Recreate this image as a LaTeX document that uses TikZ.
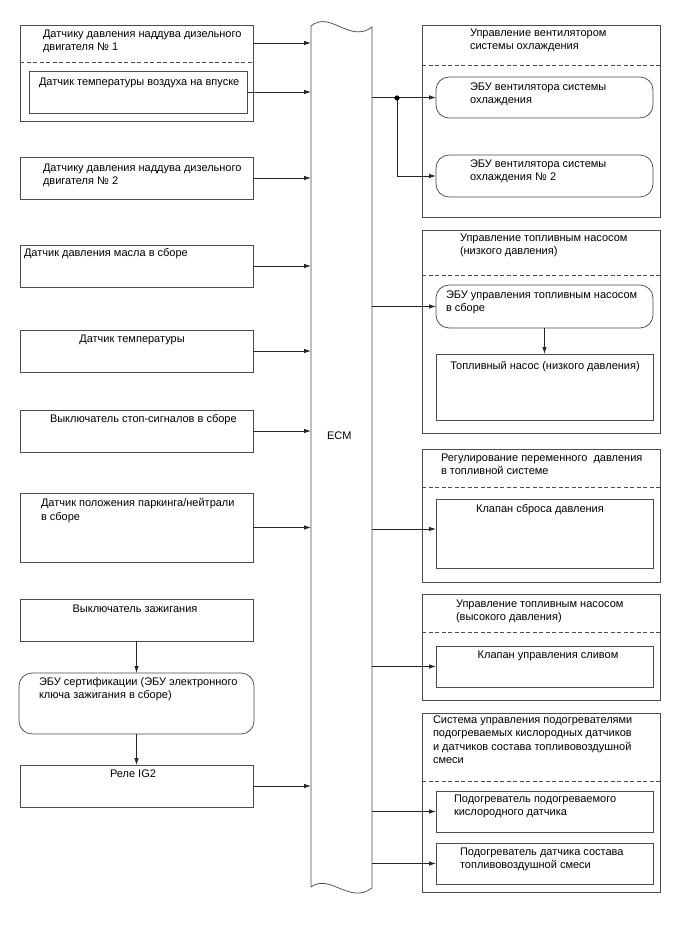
\documentclass[tikz,border=0pt]{standalone}
\usepackage{fontspec}
\setmainfont{Liberation Sans}
\usetikzlibrary{arrows.meta}
\definecolor{ln}{gray}{0.3}
\tikzset{
  bx/.style={draw=ln, line width=0.75pt, inner sep=0pt, outer sep=0pt},
  rbx/.style={bx, rounded corners=13pt},
  txt/.style={inner sep=0pt, outer sep=0pt, font=\fontsize{11}{13.5}\selectfont, align=left, text=black},
  arr/.style={draw=black!85, line width=0.75pt, -{Latex[length=7pt,width=4.5pt]}},
  dsh/.style={draw=ln, line width=0.75pt, dash pattern=on 4pt off 2.5pt},
  lnk/.style={draw=black!85, line width=0.75pt}
}
% name, x1, y1, x2, y2, style
\newcommand\mybox[6]{\node[#6, anchor=north west, minimum width={(#4-#2)*1pt}, minimum height={(#5-#3)*1pt}] (#1) at (#2pt,-#3pt) {};}
% name, x, y(first line centre), text
\newcommand\mytxt[4]{\node[txt, anchor=north west, yshift=4.5pt] (#1) at (#2pt,-#3pt) {#4};}
\newcommand\mytxtc[4]{\node[txt, anchor=north, align=center, yshift=4.5pt] (#1) at (#2pt,-#3pt) {#4};}
\begin{document}
\begin{tikzpicture}
\useasboundingbox (0,0) rectangle (688pt,-949pt);
\fill[white] (0,0) rectangle (688pt,-949pt);

% ---------------- ECM ----------------
\node[inner sep=0pt, outer sep=0pt, anchor=north west, minimum width=61pt, minimum height=861pt] (ecm) at (311pt,-26pt) {};
\draw[ln, line width=0.75pt] (311pt,-887pt) -- (311pt,-26pt)
  .. controls (330pt,-10pt) and (350pt,-44pt) .. (372pt,-27pt) -- (372pt,-888pt)
  .. controls (350pt,-905pt) and (330pt,-873pt) .. (311pt,-887pt);
\node[txt, anchor=west] (ecmlbl) at (327pt,-436pt) {ECM};

% ---------------- Left column ----------------
\mybox{L1}{20}{25}{253}{121}{bx}
\draw[dsh] (L1.west |- 0,-62pt) -- (L1.east |- 0,-62pt);
\mytxt{t1}{43}{34}{Датчику давления наддува дизельного\\двигателя № 1}
\mybox{L1b}{29}{71}{247}{113}{bx}
\mytxt{t1b}{39}{82}{Датчик температуры воздуха на впуске}

\mybox{L2}{20}{157}{253}{199}{bx}
\mytxt{t2}{43}{168}{Датчику давления наддува дизельного\\двигателя № 2}

\mybox{L3}{20}{245}{253}{287}{bx}
\mytxt{t3}{24}{253}{Датчик давления масла в сборе}

\mybox{L4}{20}{330}{253}{372}{bx}
\mytxtc{t4}{132}{339}{Датчик температуры}

\mybox{L5}{20}{410}{253}{452}{bx}
\mytxt{t5}{50}{419}{Выключатель стоп-сигналов в сборе}

\mybox{L6}{20}{493}{253}{562}{bx}
\mytxt{t6}{41}{503}{Датчик положения паркинга/нейтрали\\в сборе}

\mybox{L7}{20}{599}{253}{641}{bx}
\mytxtc{t7}{135}{609}{Выключатель зажигания}

\mybox{L8}{19}{673}{254}{734}{rbx}
\mytxt{t8}{39}{682}{ЭБУ сертификации (ЭБУ электронного\\ключа зажигания в сборе)}

\mybox{L9}{20}{765}{253}{807}{bx}
\mytxtc{t9}{133}{774}{Реле IG2}

% left arrows
\draw[arr] (L1.east |- 0,-43pt) -- (ecm.west |- 0,-43pt);
\draw[arr] (L1b.east) -- (ecm.west |- L1b.east);
\draw[arr] (L2.east) -- (ecm.west |- L2.east);
\draw[arr] (L3.east) -- (ecm.west |- L3.east);
\draw[arr] (L4.east) -- (ecm.west |- L4.east);
\draw[arr] (L5.east) -- (ecm.west |- L5.east);
\draw[arr] (L6.east) -- (ecm.west |- L6.east);
\draw[arr] (L9.east) -- (ecm.west |- L9.east);
\draw[arr] (L7.south) -- (L8.north);
\draw[arr] (L8.south) -- (L9.north);

% ---------------- Right column ----------------
% group 1
\mybox{R1}{422}{25}{660}{217}{bx}
\draw[dsh] (R1.west |- 0,-65pt) -- (R1.east |- 0,-65pt);
\mytxt{r1t}{470}{33}{Управление вентилятором\\системы охлаждения}
\mybox{RB1}{436}{77}{653}{118}{rbx}
\mytxt{rb1t}{470}{87}{ЭБУ вентилятора системы\\охлаждения}
\mybox{RB2}{436}{155}{653}{197}{rbx}
\mytxt{rb2t}{470}{164}{ЭБУ вентилятора системы\\охлаждения № 2}
\coordinate (j1) at (397pt,-98pt);
\draw[arr] (ecm.east |- RB1.west) -- (RB1.west);
\draw[arr] (j1) |- (RB2.west);
\fill[black] (j1) circle (2.6pt);

% group 2
\mybox{R2}{422}{230}{660}{433}{bx}
\draw[dsh] (R2.west |- 0,-275pt) -- (R2.east |- 0,-275pt);
\mytxt{r2t}{460}{238}{Управление топливным насосом\\(низкого давления)}
\mybox{RB3}{436}{285}{653}{328}{rbx}
\mytxt{rb3t}{446}{295}{ЭБУ управления топливным насосом\\в сборе}
\mybox{R2b}{436}{354}{653}{420}{bx}
\mytxtc{r2bt}{545}{366}{Топливный насос (низкого давления)}
\draw[arr] (ecm.east |- RB3.west) -- (RB3.west);
\draw[arr] (RB3.south) -- (R2b.north);

% group 3
\mybox{R3}{422}{449}{660}{582}{bx}
\draw[dsh] (R3.west |- 0,-487pt) -- (R3.east |- 0,-487pt);
\mytxt{r3t}{441}{458}{Регулирование переменного \ давления\\в топливной системе}
\mybox{R3b}{436}{499}{653}{568}{bx}
\mytxtc{r3bt}{540}{509}{Клапан сброса давления}
\draw[arr] (ecm.east |- 0,-529pt) -- (R3b.west |- 0,-529pt);

% group 4
\mybox{R4}{422}{594}{660}{700}{bx}
\draw[dsh] (R4.west |- 0,-632pt) -- (R4.east |- 0,-632pt);
\mytxt{r4t}{456}{604}{Управление топливным насосом\\(высокого давления)}
\mybox{R4b}{436}{646}{653}{687}{bx}
\mytxtc{r4bt}{548}{655}{Клапан управления сливом}
\draw[arr] (ecm.east |- R4b.west) -- (R4b.west);

% group 5
\mybox{R5}{422}{713}{660}{892}{bx}
\draw[dsh] (R5.west |- 0,-781pt) -- (R5.east |- 0,-781pt);
\mytxt{r5t}{433}{720}{Система управления подогревателями\\подогреваемых кислородных датчиков\\и датчиков состава топливовоздушной\\смеси}
\mybox{R5a}{436}{791}{653}{832}{bx}
\mytxt{r5at}{454}{799}{Подогреватель подогреваемого\\кислородного датчика}
\mybox{R5b}{436}{843}{653}{884}{bx}
\mytxt{r5bt}{460}{852}{Подогреватель датчика состава\\топливовоздушной смеси}
\draw[arr] (ecm.east |- R5a.west) -- (R5a.west);
\draw[arr] (ecm.east |- R5b.west) -- (R5b.west);
\end{tikzpicture}
\end{document}
